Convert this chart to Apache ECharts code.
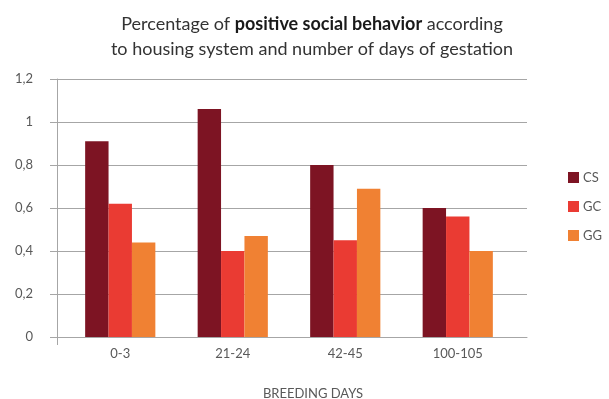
<!DOCTYPE html>
<html>
<head>
<meta charset="utf-8">
<script src="https://cdn.jsdelivr.net/npm/echarts@6/dist/echarts.min.js"></script>
<style>
  html, body { margin: 0; padding: 0; background: #fff; }
  #chart { width: 609px; height: 399px; }
</style>
</head>
<body>
<div id="chart"></div>
<script>
// Breeding-day windows and the share of positive social behaviour per housing system
var categories = ['0-3', '21-24', '42-45', '100-105'];
var seriesNames = ['CS', 'GC', 'GG'];
var csValues = [0.91, 1.06, 0.80, 0.60];
var gcValues = [0.62, 0.40, 0.45, 0.56];
var ggValues = [0.44, 0.47, 0.69, 0.40];
var yTicks = { min: 0, max: 1.2, interval: 0.2 };

var colors = ['#7D1423', '#EA3B33', '#F08133'];
var font = 'Lato, "Open Sans", sans-serif';
var gridLine = '#A6A6A6';

var chart = echarts.init(document.getElementById('chart'), null, { renderer: 'canvas' });

chart.setOption({
  animation: false,
  backgroundColor: '#ffffff',
  title: [{
    text: 'Percentage of {b|positive social behavior} according\nto housing system and number of days of gestation',
    left: 307,
    textAlign: 'center',
    top: 7,
    textStyle: {
      fontFamily: font,
      fontSize: 18,
      fontWeight: 'normal',
      color: '#333333',
      lineHeight: 25,
      rich: {
        b: { fontFamily: font, fontSize: 18, fontWeight: 'bold', color: '#1a1a1a', lineHeight: 25 }
      }
    }
  }, {
    text: 'BREEDING DAYS',
    left: 308,
    textAlign: 'center',
    top: 382,
    textStyle: { fontFamily: font, fontSize: 13, fontWeight: 'normal', color: '#595959' }
  }],
  legend: {
    orient: 'vertical',
    left: 563,
    top: 166,
    icon: 'rect',
    itemWidth: 11,
    itemHeight: 11,
    itemGap: 16,
    data: seriesNames,
    textStyle: { fontFamily: font, fontSize: 13, color: '#595959', padding: [0, 0, 0, -1] }
  },
  grid: [
    // frame grid: axis lines and horizontal gridlines
    { left: 57, right: 82, top: 79, bottom: 62, containLabel: false },
    // bar grid
    { left: 64, right: 95, top: 79, bottom: 62, containLabel: false }
  ],
  xAxis: [{
    gridIndex: 0,
    type: 'category',
    data: ['', ''],
    boundaryGap: false,
    axisLine: { show: true, lineStyle: { color: gridLine, width: 1 } },
    axisTick: { show: true, length: 8, interval: function (i) { return i === 0; }, lineStyle: { color: gridLine } },
    axisLabel: { show: false },
    splitLine: { show: false }
  }, {
    gridIndex: 1,
    type: 'category',
    data: categories,
    axisLine: { show: false },
    axisTick: { show: false },
    axisLabel: { fontFamily: font, fontSize: 13, color: '#595959', margin: 10 },
    splitLine: { show: false }
  }],
  yAxis: [{
    gridIndex: 0,
    type: 'value',
    min: yTicks.min,
    max: yTicks.max,
    interval: yTicks.interval,
    axisLine: { show: true, lineStyle: { color: gridLine, width: 1 } },
    axisTick: { show: true, length: 7, lineStyle: { color: gridLine } },
    axisLabel: {
      fontFamily: font, fontSize: 13, color: '#595959', margin: 24,
      formatter: function (v) { return String(Math.round(v * 10) / 10).replace('.', ','); }
    },
    splitLine: { show: true, lineStyle: { color: gridLine, width: 1 } }
  }, {
    gridIndex: 1,
    type: 'value',
    min: yTicks.min,
    max: yTicks.max,
    interval: yTicks.interval,
    show: false
  }],
  series: [
    { name: 'CS', type: 'bar', xAxisIndex: 1, yAxisIndex: 1, data: csValues, barWidth: 23.4, barGap: '0%', itemStyle: { color: colors[0] } },
    { name: 'GC', type: 'bar', xAxisIndex: 1, yAxisIndex: 1, data: gcValues, barWidth: 23.4, barGap: '0%', itemStyle: { color: colors[1] } },
    { name: 'GG', type: 'bar', xAxisIndex: 1, yAxisIndex: 1, data: ggValues, barWidth: 23.4, barGap: '0%', itemStyle: { color: colors[2] } }
  ]
});
</script>
</body>
</html>
